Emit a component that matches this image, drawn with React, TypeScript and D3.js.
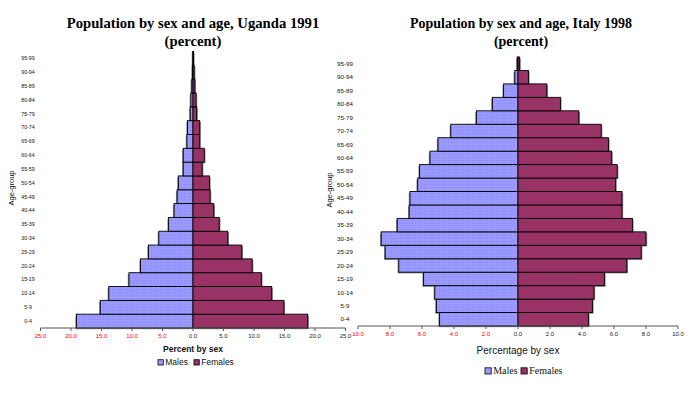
import * as d3 from "d3";

const ageGroups = [
  "0-4", "5-9", "10-14", "15-19", "20-24", "25-29", "30-34", "35-39", "40-44", "45-49",
  "50-54", "55-59", "60-64", "65-69", "70-74", "75-79", "80-84", "85-89", "90-94", "95-99",
];

// Uganda 1991, percent
const ugandaMales = [19.1, 15.2, 13.8, 10.5, 8.6, 7.3, 5.6, 4.0, 3.1, 2.6, 2.4, 1.6, 1.6, 1.0, 0.9, 0.45, 0.35, 0.2, 0.1, 0.05];
const ugandaFemales = [18.8, 14.9, 12.9, 11.2, 9.7, 8.0, 5.7, 4.3, 3.4, 2.8, 2.7, 1.5, 1.85, 1.1, 1.1, 0.6, 0.5, 0.3, 0.2, 0.1];
const ugandaTicks = [-25, -20, -15, -10, -5, 0, 5, 10, 15, 20, 25];

// Italy 1998, percent
const italyMales = [4.9, 5.1, 5.2, 5.9, 7.45, 8.3, 8.55, 7.55, 6.8, 6.75, 6.27, 6.15, 5.5, 5.0, 4.2, 2.6, 1.6, 0.9, 0.2, 0.05];
const italyFemales = [4.4, 4.65, 4.75, 5.4, 6.8, 7.7, 8.0, 7.15, 6.5, 6.5, 6.1, 6.2, 5.85, 5.65, 5.2, 3.8, 2.65, 1.8, 0.65, 0.1];
const italyTicks = [-10, -8, -6, -4, -2, 0, 2, 4, 6, 8, 10];

const MALE = "#9999ff";
const FEMALE = "#993366";
const NEG = "#ff0000";

type Cfg = {
  id: string;
  males: number[];
  females: number[];
  ticks: number[];
  max: number;
  cx: number;
  halfW: number;
  top: number;
  bottom: number;
  ageX: number;
  ageFont: number;
  ageTitleX: number;
  ageTitleY: number;
  title: string;
  titleX: number;
  titleY: number;
  titleSize: number;
  xTitle: string;
  xTitleY: number;
  xTitleStyle: { size: number; weight: string };
  legendY: number;
  legendX: number;
  legendFont: string;
  legendSize: number;
  legendGap: number;
};

function Pyramid({ c }: { c: Cfg }) {
  const x = d3.scaleLinear().domain([-c.max, c.max]).range([c.cx - c.halfW, c.cx + c.halfW]);
  const y = d3.scaleBand<string>().domain([...ageGroups].reverse()).range([c.top, c.bottom]).padding(0);
  const bw = y.bandwidth();
  const fmt = d3.format(".1f");
  const sans = "Arial, 'Liberation Sans', sans-serif";
  const serif = "'Times New Roman', 'Liberation Serif', serif";
  const box = c.legendSize * 0.62;

  return (
    <g>
      {/* titles */}
      <text x={c.titleX} y={c.titleY} textAnchor="middle" fontFamily={serif} fontWeight="bold" fontSize={c.titleSize}>
        {c.title}
      </text>
      <text x={c.titleX} y={c.titleY + 18} textAnchor="middle" fontFamily={serif} fontWeight="bold" fontSize={c.titleSize}>
        (percent)
      </text>

      {/* bars: shadows first */}
      {ageGroups.map((a, i) => (
        <g key={"s" + a}>
          <rect x={x(-c.males[i]) - 1.2} y={(y(a) as number) + 1.2} width={x(0) - x(-c.males[i])} height={bw} fill="#8c8c8c" />
          <rect x={x(0) + 1.2} y={(y(a) as number) + 1.2} width={x(c.females[i]) - x(0)} height={bw} fill="#8c8c8c" />
        </g>
      ))}
      {ageGroups.map((a, i) => (
        <g key={a}>
          <rect
            x={x(-c.males[i])}
            y={y(a) as number}
            width={x(0) - x(-c.males[i])}
            height={bw}
            fill={`url(#dots-${c.id})`}
            stroke="#000"
            strokeWidth={0.9}
          />
          <rect
            x={x(0)}
            y={y(a) as number}
            width={x(c.females[i]) - x(0)}
            height={bw}
            fill={FEMALE}
            stroke="#000"
            strokeWidth={0.9}
          />
        </g>
      ))}

      {/* x axis */}
      <line x1={x(-c.max)} x2={x(c.max)} y1={c.bottom} y2={c.bottom} stroke="#555" strokeWidth={1} />
      {c.ticks.map((t) => (
        <g key={t}>
          <line x1={x(t)} x2={x(t)} y1={c.bottom} y2={c.bottom + 3} stroke="#555" strokeWidth={1} />
          <text
            x={x(t)}
            y={c.bottom + 10}
            textAnchor="middle"
            fontFamily={sans}
            fontSize={6}
            fill={t < 0 ? NEG : "#222"}
          >
            {fmt(Math.abs(t))}
          </text>
        </g>
      ))}

      {/* age labels */}
      {ageGroups.map((a) => (
        <text
          key={"l" + a}
          x={c.ageX}
          y={(y(a) as number) + bw / 2 + c.ageFont * 0.35}
          textAnchor="middle"
          fontFamily={sans}
          fontSize={c.ageFont}
          fill="#111"
        >
          {a}
        </text>
      ))}
      <text
        transform={`translate(${c.ageTitleX},${c.ageTitleY}) rotate(-90)`}
        textAnchor="middle"
        fontFamily={sans}
        fontSize={7.5}
        fill="#111"
      >
        Age-group
      </text>

      {/* x title */}
      <text
        x={c.cx}
        y={c.xTitleY}
        textAnchor="middle"
        fontFamily={sans}
        fontSize={c.xTitleStyle.size}
        fontWeight={c.xTitleStyle.weight}
        fill="#111"
      >
        {c.xTitle}
      </text>

      {/* legend */}
      <g transform={`translate(${c.legendX},${c.legendY})`} fontFamily={c.legendFont} fontSize={c.legendSize}>
        <rect x={0} y={-box} width={box} height={box} fill={MALE} stroke="#000" strokeWidth={0.8} />
        <text x={box + 2} y={0} fill="#111">Males</text>
        <rect x={c.legendGap} y={-box} width={box} height={box} fill={FEMALE} stroke="#000" strokeWidth={0.8} />
        <text x={c.legendGap + box + 2} y={0} fill="#111">Females</text>
      </g>
    </g>
  );
}

const uganda: Cfg = {
  id: "ug",
  males: ugandaMales,
  females: ugandaFemales,
  ticks: ugandaTicks,
  max: 25,
  cx: 193,
  halfW: 152.5,
  top: 51.5,
  bottom: 328,
  ageX: 28,
  ageFont: 5.3,
  ageTitleX: 14,
  ageTitleY: 188,
  title: "Population by sex and age, Uganda 1991",
  titleX: 193,
  titleY: 28,
  titleSize: 14.7,
  xTitle: "Percent by sex",
  xTitleY: 352,
  xTitleStyle: { size: 8.5, weight: "bold" },
  legendY: 365,
  legendX: 158,
  legendFont: "Arial, 'Liberation Sans', sans-serif",
  legendSize: 8.5,
  legendGap: 36,
};

const italy: Cfg = {
  id: "it",
  males: italyMales,
  females: italyFemales,
  ticks: italyTicks,
  max: 10,
  cx: 518,
  halfW: 160,
  top: 57,
  bottom: 326,
  ageX: 345,
  ageFont: 6.2,
  ageTitleX: 332,
  ageTitleY: 190,
  title: "Population by sex and age, Italy 1998",
  titleX: 521,
  titleY: 28,
  titleSize: 14,
  xTitle: "Percentage by sex",
  xTitleY: 354,
  xTitleStyle: { size: 10, weight: "normal" },
  legendY: 374,
  legendX: 485,
  legendFont: "'Times New Roman', 'Liberation Serif', serif",
  legendSize: 10,
  legendGap: 36,
};

export default function App() {
  return (
    <svg
      width={690}
      height={393}
      style={{ position: "absolute", left: 0, top: 0, background: "#fff" }}
    >
      <defs>
        {["ug", "it"].map((id) => (
          <pattern key={id} id={`dots-${id}`} width={3} height={3} patternUnits="userSpaceOnUse">
            <rect width={3} height={3} fill={MALE} />
            <rect x={1} y={1} width={0.8} height={0.8} fill="#7f7fe0" />
          </pattern>
        ))}
      </defs>
      <rect width={690} height={393} fill="#fff" />
      <Pyramid c={uganda} />
      <Pyramid c={italy} />
    </svg>
  );
}
